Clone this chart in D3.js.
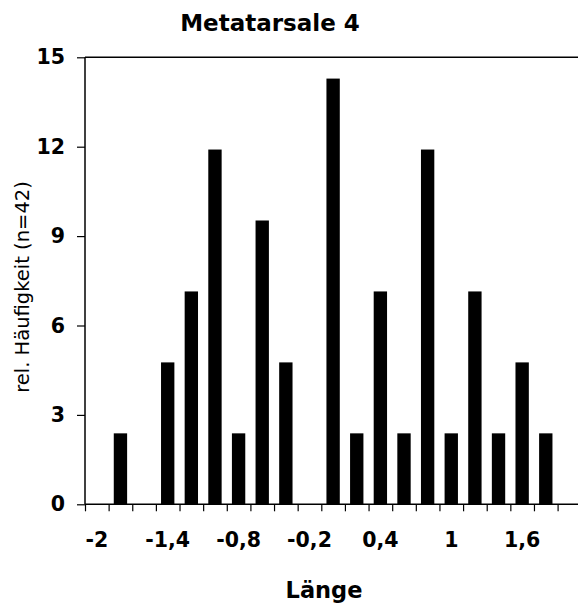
<!DOCTYPE html>
<html>
<head>
<meta charset="utf-8">
<script src="https://cdn.jsdelivr.net/npm/d3@7"></script>
<style>
  html, body { margin: 0; padding: 0; background: #fff; }
  svg { display: block; }
</style>
</head>
<body>
<svg id="chart" width="578" height="605"></svg>
<script>
// ---- data ----
const title = "Metatarsale 4";
const xTitle = "Länge";
const yTitle = "rel. Häufigkeit (n=42)";
const categories = [-2, -1.8, -1.6, -1.4, -1.2, -1, -0.8, -0.6, -0.4, -0.2,
                    0, 0.2, 0.4, 0.6, 0.8, 1, 1.2, 1.4, 1.6, 1.8];
const counts = [0, 1, 0, 2, 3, 5, 1, 4, 2, 0,
                6, 1, 3, 1, 5, 1, 3, 1, 2, 1];
const total = 42;
const values = counts.map(c => c / total * 100);
const xTickCategories = [-2, -1.4, -0.8, -0.2, 0.4, 1, 1.6];
const yTicks = [0, 3, 6, 9, 12, 15];

(function () {
// ---- layout ----
const svg = d3.select("#chart");
const W = 578;
const mLeft = 85, mTop = 57.3, mBottom = 504.3;
const step = 23.63;
const mRight = mLeft + step * categories.length;

const x = d3.scaleBand()
  .domain(categories)
  .range([mLeft, mRight])
  .paddingInner(0.435)
  .paddingOuter(0.2175);
const xIdx = d3.scaleLinear().domain([0, categories.length]).range([mLeft, mRight]);
const y = d3.scaleLinear().domain([0, 15]).range([mBottom, mTop]);

const font = "'DejaVu Sans', Verdana, sans-serif";
const fmt = v => String(v).replace(".", ",");

// frame (top + left lines, baseline)
svg.append("line").attr("x1", mLeft).attr("x2", W).attr("y1", mTop).attr("y2", mTop)
  .attr("stroke", "#000").attr("stroke-width", 1.5);
svg.append("line").attr("x1", mLeft).attr("x2", mLeft).attr("y1", mTop).attr("y2", mBottom)
  .attr("stroke", "#000").attr("stroke-width", 1.5);
svg.append("line").attr("x1", mLeft).attr("x2", W).attr("y1", mBottom).attr("y2", mBottom)
  .attr("stroke", "#000").attr("stroke-width", 1.5);

// bars
svg.append("g").selectAll("rect")
  .data(categories.map((c, i) => ({c, v: values[i]})).filter(d => d.v > 0))
  .join("rect")
  .attr("x", d => x(d.c))
  .attr("width", x.bandwidth())
  .attr("y", d => y(d.v))
  .attr("height", d => y(0) - y(d.v))
  .attr("fill", "#000");

// x boundary ticks
const gTicks = svg.append("g").attr("transform", `translate(0,${mBottom})`)
  .call(d3.axisBottom(xIdx).tickValues(d3.range(0, categories.length + 1))
    .tickSize(7).tickSizeOuter(0).tickFormat(""));
gTicks.select(".domain").remove();
gTicks.selectAll("line").attr("stroke", "#000").attr("stroke-width", 1.2);

// x labels
const gX = svg.append("g").attr("transform", `translate(0,${mBottom})`)
  .call(d3.axisBottom(x).tickValues(xTickCategories).tickSize(0).tickPadding(28)
    .tickFormat(fmt));
gX.select(".domain").remove();
gX.selectAll("text").attr("font-family", font).attr("font-weight", "bold")
  .attr("font-size", 20.5).attr("fill", "#000");

// y axis
const gY = svg.append("g").attr("transform", `translate(${mLeft},0)`)
  .call(d3.axisLeft(y).tickValues(yTicks).tickSize(8).tickPadding(12).tickFormat(d3.format("d")));
gY.select(".domain").remove();
gY.selectAll("line").attr("stroke", "#000").attr("stroke-width", 1.2);
gY.selectAll("text").attr("font-family", font).attr("font-weight", "bold")
  .attr("font-size", 20.5).attr("fill", "#000");

// titles
svg.append("text").attr("x", 270).attr("y", 31).attr("text-anchor", "middle")
  .attr("font-family", font).attr("font-weight", "bold").attr("font-size", 23)
  .text(title);
svg.append("text").attr("x", 324).attr("y", 598).attr("text-anchor", "middle")
  .attr("font-family", font).attr("font-weight", "bold").attr("font-size", 22.5)
  .text(xTitle);
svg.append("text").attr("transform", "translate(29,287) rotate(-90)")
  .attr("text-anchor", "middle")
  .attr("font-family", font).attr("font-size", 19.5)
  .text(yTitle);
})();
</script>
</body>
</html>
